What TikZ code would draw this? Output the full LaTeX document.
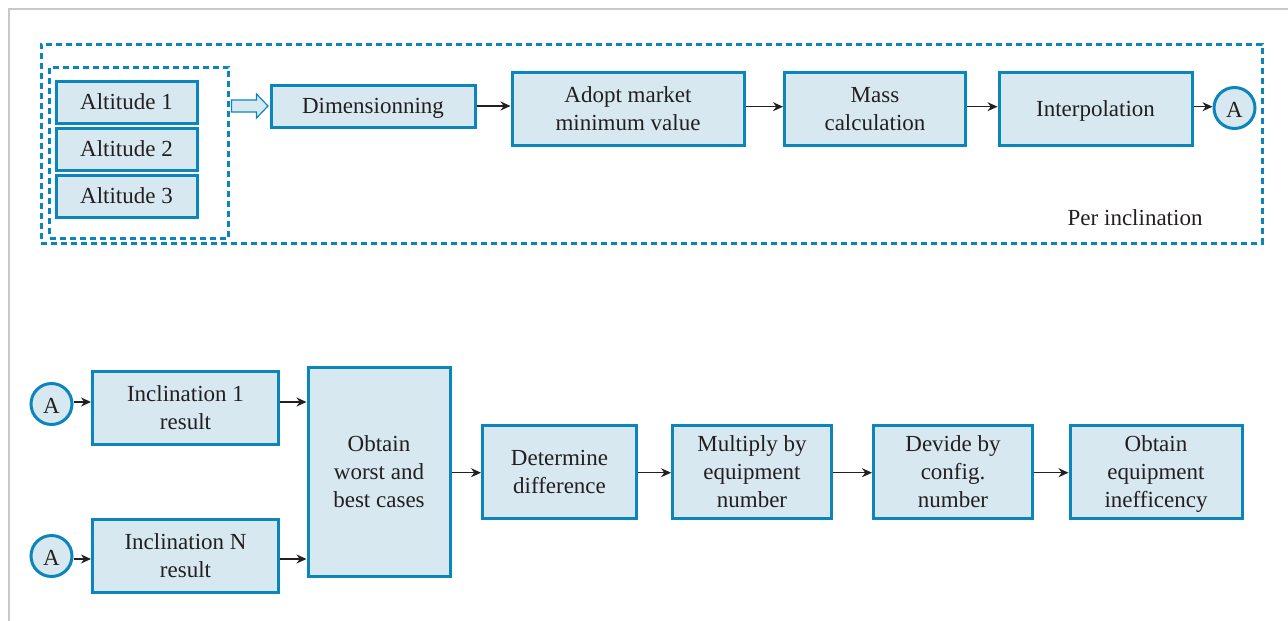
\documentclass[tikz,border=0pt]{standalone}
\usepackage{fontspec}
\setmainfont{Liberation Serif}
\usetikzlibrary{arrows.meta,calc}
\definecolor{bblue}{HTML}{0B86BD}
\definecolor{bfill}{HTML}{D7E8F1}
\definecolor{txt}{HTML}{231F20}
\definecolor{frame}{HTML}{C8C8C8}
\newcommand\bt[1]{\raisebox{-2pt}[\height][\depth]{\begin{tabular}{@{}c@{}}#1\end{tabular}}}
\newcommand\ct[1]{\raisebox{-2pt}[\height][\depth]{#1}}
\tikzset{
  box/.style={draw=bblue, fill=bfill, line width=3pt, inner sep=0pt, align=center,
    text=txt, font=\fontsize{23}{28}\selectfont},
  circ/.style={draw=bblue, fill=bfill, line width=3pt, circle, inner sep=0pt,
    minimum size=41pt, text=txt, font=\fontsize{23}{28}\selectfont},
  dbox/.style={draw=bblue, line width=3pt, dash pattern=on 6pt off 4pt, inner sep=0pt},
  arr/.style={draw=txt, line width=1.3pt, -{Stealth[length=10pt,width=9pt]}},
  hollow/.style={draw=bblue, fill=bfill, line width=1.2pt, line join=miter},
}
\begin{document}
\begin{tikzpicture}[x=1pt,y=-1pt]
\useasboundingbox (0,0) rectangle (1288,621);
% frame
\draw[frame, line width=2pt] (9,621) -- (9,9) -- (1288,9);
% dashed groups
\node[dbox, minimum width=1221pt, minimum height=199pt] (outer) at (651.5,143.5) {};
\node[dbox, minimum width=179pt, minimum height=171pt] (inner) at (139,152.5) {};
\node[text=txt, font=\fontsize{23}{28}\selectfont, anchor=base east] (perinc) at (1206,225) {Per inclination};
% altitude boxes
\node[box, minimum width=141pt, minimum height=42pt] (alt1) at (126.5,102) {\bt{Altitude 1}};
\node[box, minimum width=141pt, minimum height=42pt] (alt2) at (126.5,149) {\bt{Altitude 2}};
\node[box, minimum width=141pt, minimum height=42pt] (alt3) at (126.5,196) {\bt{Altitude 3}};
% top row
\node[box, minimum width=204pt, minimum height=42pt] (dim) at (373,106) {\bt{Dimensionning}};
\node[box, minimum width=232pt, minimum height=73pt] (adopt) at (628,108.5) {\bt{Adopt market\\minimum value}};
\node[box, minimum width=181pt, minimum height=73pt] (mass) at (875,108.5) {\bt{Mass\\calculation}};
\node[box, minimum width=193pt, minimum height=73pt] (interp) at (1095.5,108.5) {\bt{Interpolation}};
\node[circ] (atop) at (1234.5,108) {\ct{A}};
% hollow arrow
\path (inner.east |- dim.west) coordinate (hs) (dim.west) coordinate (he);
\draw[hollow] ($(hs)+(1.5,-6)$) -- ($(he)+(-13,-6)$) -- ($(he)+(-13,-12)$) -- ($(he)+(-1.5,0)$)
  -- ($(he)+(-13,12)$) -- ($(he)+(-13,6)$) -- ($(hs)+(1.5,6)$) -- cycle;
% top arrows
\draw[arr] (dim.east) -- (adopt.west |- dim.east);
\draw[arr] (adopt.east |- 0,106.7) -- (mass.west |- 0,106.7);
\draw[arr] (mass.east |- 0,106.7) -- (interp.west |- 0,106.7);
\draw[arr] (interp.east |- 0,106.7) -- (atop.west |- 0,106.7);
% bottom
\node[circ] (a1) at (51.5,404) {\ct{A}};
\node[circ] (a2) at (51.5,556) {\ct{A}};
\node[box, minimum width=186pt, minimum height=73pt] (inc1) at (185.5,407.5) {\bt{Inclination 1\\result}};
\node[box, minimum width=186pt, minimum height=73pt] (incn) at (185.5,555.5) {\bt{Inclination N\\result}};
\node[box, minimum width=142pt, minimum height=209pt] (obt) at (379,472) {\bt{Obtain\\worst and\\best cases}};
\node[box, minimum width=154pt, minimum height=93pt] (det) at (559.5,472) {\bt{Determine\\difference}};
\node[box, minimum width=159pt, minimum height=93pt] (mul) at (752,472) {\bt{Multiply by\\equipment\\number}};
\node[box, minimum width=159pt, minimum height=93pt] (dev) at (953,472) {\bt{Devide by\\config.\\number}};
\node[box, minimum width=172pt, minimum height=93pt] (ineff) at (1156,472) {\bt{Obtain\\equipment\\inefficency}};
\draw[arr] (a1.east |- 0,402) -- (inc1.west |- 0,402);
\draw[arr] (a2.east |- 0,559) -- (incn.west |- 0,559);
\draw[arr] (inc1.east |- 0,402) -- (obt.west |- 0,402);
\draw[arr] (incn.east |- 0,559) -- (obt.west |- 0,559);
\draw[arr] (obt.east |- 0,472.7) -- (det.west |- 0,472.7);
\draw[arr] (det.east |- 0,472.7) -- (mul.west |- 0,472.7);
\draw[arr] (mul.east |- 0,472.7) -- (dev.west |- 0,472.7);
\draw[arr] (dev.east |- 0,472.7) -- (ineff.west |- 0,472.7);
\end{tikzpicture}
\end{document}
